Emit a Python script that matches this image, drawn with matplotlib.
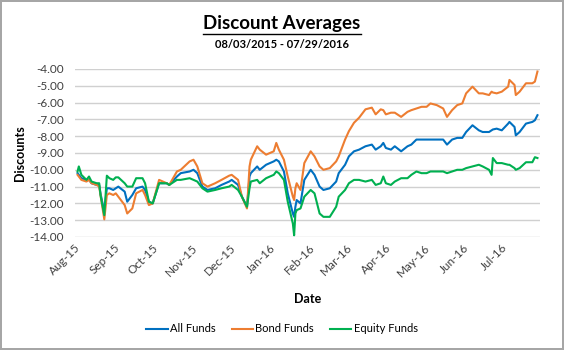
import pandas as pd
import matplotlib.pyplot as plt
import matplotlib.dates as mdates
from matplotlib.lines import Line2D

plt.rcParams['font.family'] = ['Lato', 'DejaVu Sans']

dates = ['2015-08-03', '2015-08-04', '2015-08-06', '2015-08-10', '2015-08-12', '2015-08-14',
         '2015-08-18', '2015-08-20', '2015-08-21', '2015-08-24', '2015-08-26', '2015-08-28',
         '2015-08-31', '2015-09-02', '2015-09-04', '2015-09-09', '2015-09-11', '2015-09-15',
         '2015-09-18', '2015-09-23', '2015-09-25', '2015-09-28', '2015-10-01', '2015-10-06',
         '2015-10-12', '2015-10-14', '2015-10-20', '2015-10-23', '2015-10-30', '2015-11-02',
         '2015-11-05', '2015-11-09', '2015-11-13', '2015-11-19', '2015-11-24', '2015-11-30',
         '2015-12-02', '2015-12-07', '2015-12-10', '2015-12-14', '2015-12-16', '2015-12-17',
         '2015-12-22', '2015-12-24', '2015-12-29', '2016-01-04', '2016-01-06', '2016-01-08',
         '2016-01-12', '2016-01-15', '2016-01-19', '2016-01-20', '2016-01-21', '2016-01-22',
         '2016-01-25', '2016-01-28', '2016-02-02', '2016-02-05', '2016-02-09', '2016-02-12',
         '2016-02-17', '2016-02-22', '2016-02-24', '2016-02-29', '2016-03-03', '2016-03-07',
         '2016-03-11', '2016-03-16', '2016-03-21', '2016-03-24', '2016-03-28', '2016-03-30',
         '2016-04-01', '2016-04-05', '2016-04-08', '2016-04-13', '2016-04-18', '2016-04-21',
         '2016-04-25', '2016-04-29', '2016-05-03', '2016-05-06', '2016-05-11', '2016-05-16',
         '2016-05-19', '2016-05-23', '2016-05-27', '2016-05-31', '2016-06-03', '2016-06-08',
         '2016-06-13', '2016-06-16', '2016-06-21', '2016-06-23', '2016-06-24', '2016-06-27',
         '2016-07-01', '2016-07-06', '2016-07-07', '2016-07-11', '2016-07-12', '2016-07-15',
         '2016-07-20', '2016-07-25', '2016-07-27', '2016-07-29']

all_funds = [-10.2, -10.3, -10.5, -10.6, -10.6, -10.8,
             -10.9, -10.9, -11.4, -12.5, -11.1, -11.1,
             -11.2, -11.1, -11.0, -11.3, -11.9, -11.5,
             -11.1, -11.0, -11.2, -11.9, -12.0, -10.8,
             -10.8, -10.9, -10.4, -10.2, -10.1, -10.0,
             -10.2, -11.0, -11.2, -11.1, -10.9, -10.7,
             -10.6, -10.9, -11.6, -12.2, -10.4, -10.2,
             -9.8, -10.0, -9.7, -9.5, -9.4, -9.5,
             -10.1, -11.4, -12.6, -12.8, -12.2, -11.8,
             -12.0, -10.6, -10.0, -10.3, -11.0, -11.2,
             -11.1, -10.7, -10.2, -9.7, -9.2, -8.9,
             -8.8, -8.6, -8.5, -8.8, -8.6, -8.4,
             -8.7, -8.8, -8.6, -8.9, -8.6, -8.5,
             -8.2, -8.2, -8.2, -8.2, -8.2, -8.2,
             -8.5, -8.2, -8.1, -8.1, -7.75, -7.35,
             -7.65, -7.75, -7.75, -7.65, -7.6, -7.55,
             -7.65, -7.25, -7.15, -7.45, -7.95, -7.75,
             -7.25, -7.15, -7.05, -6.75]

bond_funds = [-10.3, -10.4, -10.6, -10.7, -10.6, -10.8,
              -10.9, -11.0, -11.5, -12.95, -11.5, -11.4,
              -11.5, -11.4, -11.6, -12.1, -12.6, -12.3,
              -11.4, -11.2, -11.5, -12.1, -12.0, -10.6,
              -10.8, -10.9, -10.1, -10.0, -9.5, -9.4,
              -9.8, -10.8, -11.0, -10.8, -10.6, -10.35,
              -10.3, -10.6, -11.6, -12.3, -9.8, -9.4,
              -8.6, -8.8, -9.1, -8.9, -8.4, -8.8,
              -9.4, -10.4, -11.6, -11.8, -11.1, -10.8,
              -11.2, -9.6, -8.9, -9.2, -9.8, -10.0,
              -9.9, -9.5, -9.2, -8.2, -7.7, -7.2,
              -6.9, -6.4, -6.3, -6.7, -6.4, -6.45,
              -6.7, -6.6, -6.6, -6.85, -6.55, -6.45,
              -6.35, -6.25, -6.25, -6.05, -6.15, -6.35,
              -6.85, -6.45, -6.15, -6.05, -5.45, -5.05,
              -5.45, -5.45, -5.55, -5.35, -5.4, -5.45,
              -5.35, -5.05, -4.65, -4.95, -5.55, -5.35,
              -4.85, -4.85, -4.75, -4.15]

equity_funds = [-10.1, -9.8, -10.3, -10.6, -10.4, -10.7,
                -10.8, -10.8, -11.5, -12.7, -10.35, -10.5,
                -10.6, -10.45, -10.45, -10.8, -11.0, -11.0,
                -10.5, -10.5, -10.8, -11.9, -12.0, -10.8,
                -10.8, -10.9, -10.6, -10.6, -10.5, -10.6,
                -10.7, -11.1, -11.3, -11.2, -11.1, -11.0,
                -10.9, -11.2, -11.6, -12.2, -11.1, -10.7,
                -10.6, -10.8, -10.5, -10.3, -10.1, -10.2,
                -10.6, -11.9, -13.2, -13.9, -12.6, -12.4,
                -12.3, -11.6, -11.2, -11.4, -12.6, -12.8,
                -12.8, -12.2, -11.6, -11.2, -10.8, -10.6,
                -10.6, -10.7, -10.6, -10.9, -10.8, -10.4,
                -10.8, -10.9, -10.7, -10.5, -10.5, -10.3,
                -10.1, -10.2, -10.2, -10.1, -10.1, -10.1,
                -10.2, -10.1, -10.0, -10.0, -9.9, -9.8,
                -9.7, -9.8, -10.0, -10.3, -9.3, -9.6,
                -9.6, -9.7, -9.7, -9.9, -10.0, -9.9,
                -9.55, -9.55, -9.25, -9.3]

df = pd.DataFrame({'All Funds': all_funds, 'Bond Funds': bond_funds,
                   'Equity Funds': equity_funds}, index=pd.to_datetime(dates))
colors = {'All Funds': '#0070C0', 'Bond Funds': '#ED7D31', 'Equity Funds': '#00B050'}

fig = plt.figure(figsize=(5.64, 3.5), dpi=100)
fig.patch.set_edgecolor('#A6A6A6')
fig.patch.set_linewidth(1.5)
ax = fig.add_axes([75/564, 1-237/350, 465/564, 168/350])

for name in df.columns:
    ax.plot(df.index, df[name], color=colors[name], lw=1.5, label=name)

ax.set_ylim(-14, -4)
ax.set_yticks(range(-14, -3))
ax.yaxis.set_major_formatter(plt.FuncFormatter(lambda v, p: '%.2f' % v))
ax.set_xlim(pd.Timestamp('2015-08-01'), pd.Timestamp('2016-07-31'))
ax.xaxis.set_major_locator(mdates.MonthLocator())
ax.xaxis.set_major_formatter(mdates.DateFormatter('%b-%y'))
ax.grid(axis='y', color='#D0D0D0', lw=1)
ax.set_axisbelow(True)
for s in ax.spines.values():
    s.set_visible(False)
ax.tick_params(length=0, labelsize=8.5, labelcolor='#404040')
ax.tick_params(axis='y', pad=8)
for lbl in ax.get_xticklabels():
    lbl.set_rotation(45)
    lbl.set_ha('right')
    lbl.set_rotation_mode('anchor')

ax.set_ylabel('Discounts', fontsize=9, fontweight='bold', labelpad=2)
ax.set_xlabel('Date', fontsize=9, fontweight='bold', labelpad=10)

title = fig.text(0.5, 1-24/350, 'Discount Averages', ha='center', va='center',
                 fontsize=13.5, fontweight='bold')
fig.text(0.5, 1-45/350, '08/03/2015 - 07/29/2016', ha='center', va='center',
         fontsize=8, fontweight='bold')

# underline the title
fig.canvas.draw()
bb = title.get_window_extent().transformed(fig.transFigure.inverted())
fig.add_artist(Line2D([bb.x0, bb.x1], [1-33.5/350]*2, color='black', lw=1))

fig.legend(loc='center', bbox_to_anchor=(0.5, 1-329/350), ncol=3, frameon=False,
           fontsize=8, handlelength=1.9, columnspacing=1.4, handletextpad=0.25)

plt.savefig('out.png', dpi=100)
